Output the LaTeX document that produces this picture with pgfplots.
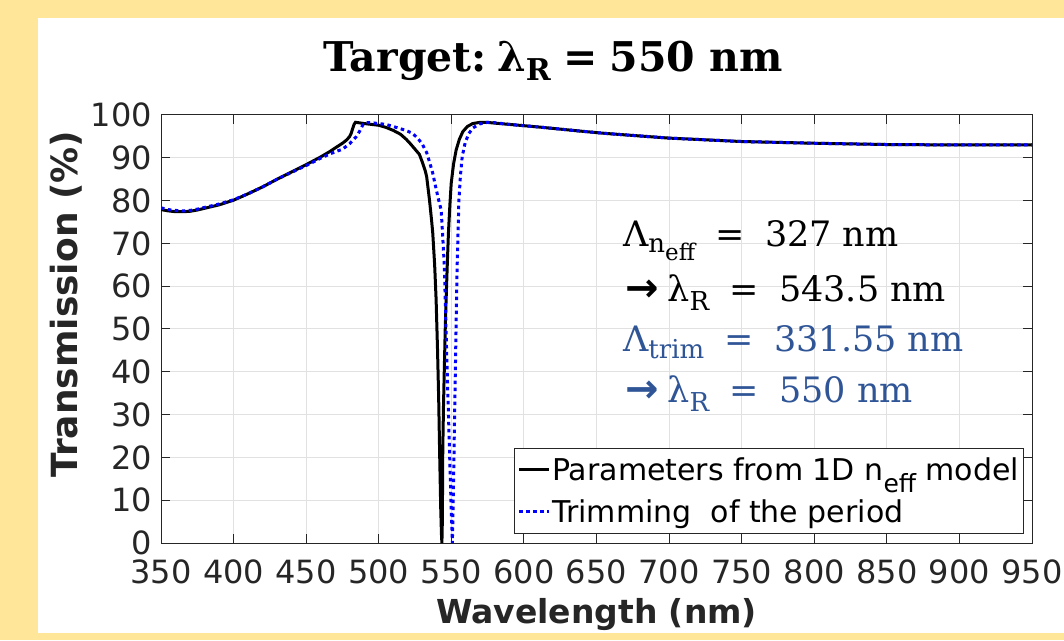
\documentclass[border=0pt]{standalone}
\usepackage{fontspec}
\setmainfont{DejaVu Sans}
\newfontfamily\seriffont{DejaVu Serif}
\newfontfamily\arrowfont{DejaVu Sans}
\usepackage{pgfplots}
\pgfplotsset{compat=1.18}
\definecolor{bgyellow}{RGB}{255,230,153}
\definecolor{axgray}{RGB}{38,38,38}
\definecolor{gridgray}{RGB}{225,225,225}
\definecolor{annblue}{RGB}{47,85,151}
\newcommand{\eq}{\hspace{0.58em}=\hspace{0.58em}}
\begin{document}
\begin{tikzpicture}[x=1pt,y=1pt]
\fill[bgyellow] (0,0) rectangle (1064,640);
\fill[white] (38,7) rectangle (1064,622);
\useasboundingbox (0,0) rectangle (1064,640);
\begin{axis}[
  at={(161pt,97pt)}, anchor=south west,
  scale only axis, width=871pt, height=428pt,
  xmin=350, xmax=950, ymin=0, ymax=100,
  xtick={350,400,...,950}, ytick={0,10,...,100},
  grid=major, major grid style={gridgray, line width=1pt},
  axis line style={axgray, line width=1pt},
  tick style={axgray, line width=1pt},
  tick align=inside, major tick length=9pt,
  tick label style={font=\fontsize{32}{32}\selectfont, color=axgray, inner sep=0pt},
  xticklabel style={yshift=-17pt},
  yticklabel style={xshift=-9pt},
  /pgf/number format/assume math mode=true,
  /pgf/number format/1000 sep={},
  xlabel={Wavelength (nm)}, ylabel={Transmission (\%)},
  xlabel style={font=\fontsize{33}{33}\selectfont\bfseries, color=axgray,
    at={(axis description cs:0.5,-0.189)}, anchor=base},
  ylabel style={font=\fontsize{36}{36}\selectfont\bfseries, color=axgray,
    at={(axis description cs:-0.0964,0.558)}, anchor=base},
  legend cell align=left,
  legend image code/.code={\draw[#1] (0pt,0pt) -- (30pt,0pt);},
  legend style={at={(axis description cs:0.9908,0.021)}, anchor=south east,
    draw=axgray, line width=0.8pt, fill=white,
    font=\fontsize{30}{30}\selectfont, inner xsep=3pt, inner ysep=8pt,
    row sep=15pt, nodes={inner sep=1.5pt}},
]
\addplot[black, line width=3pt] coordinates {
(350,77.9) (355,77.6) (360,77.4) (365,77.4) (370,77.5) (375,77.8) (380,78.2)
(390,79.0) (400,80.1) (410,81.6) (420,83.2) (430,85.0) (440,86.7) (450,88.4)
(460,90.2) (466,91.4) (470,92.3) (475,93.4) (478,94.2) (480,95.0) (481,95.7)
(482,96.8) (483,97.8) (484,98.3) (486,98.2) (490,98.0) (500,97.6) (505,97.1)
(510,96.4) (515,95.5) (519,94.3) (522,93.2) (525,92.0) (528,90.8) (530,89.0)
(532,87.0) (533,85.6) (535,80.0) (536.5,75.0) (537.2,72.4) (538.5,65.0)
(539.5,57.0) (540.5,45.0) (541.3,33.4) (542,20) (542.7,8) (543.2,2) (543.5,0)
(543.8,5) (544.1,21.7) (544.6,32) (545.2,41.2) (545.8,50) (546.4,56.8)
(547.2,65) (548,72.4) (549,79) (549.9,84) (551.5,88.5) (553.3,91.8)
(555.5,94.3) (557.9,96.1) (561,97.3) (564.7,98.0) (570,98.3) (574,98.3)
(580,98.1) (590,97.8) (600,97.5) (610,97.2) (625,96.7) (640,96.2) (656,95.7)
(680,95.1) (700,94.6) (725,94.2) (750,93.8) (775,93.6) (800,93.4) (825,93.25)
(850,93.1) (900,93.0) (950,93.0)
};
\addlegendentry{Parameters from 1D n\raisebox{-0.42em}{\fontsize{25}{25}\selectfont eff} model}
\addplot[blue, line width=3pt, dash pattern=on 3.5pt off 3.5pt] coordinates {
(350,78.3) (355,77.9) (360,77.7) (365,77.6) (370,77.7) (375,78.0) (380,78.4)
(390,79.2) (400,80.2) (410,81.6) (420,83.2) (430,85.0) (440,86.6) (450,88.2)
(460,89.9) (465,90.7) (470,91.4) (475,92.0) (480,93.3) (484.4,94.9) (487,96.3)
(489,97.7) (491,98.2) (495,98.2) (500,98.0) (505,97.8) (510,97.3) (515,96.8)
(520,96.2) (523.4,95.7) (527,94.5) (530,93.2) (533,91.2) (535,89.0)
(537.2,86.4) (539,83.5) (541,80.5) (543,77.8) (544,72) (545.2,64.6)
(546.4,49) (547.4,37) (548.4,25.7) (549.3,15) (550,7) (550.5,2) (550.7,0)
(551.2,8) (551.7,17.8) (552.2,29) (552.8,41) (553.4,53) (554,64.6)
(555.2,80) (556.3,86) (557.5,90.3) (559.5,93.5) (562.1,95.7) (565,97.0)
(569.3,97.9) (575,98.3) (580,98.2) (590,97.8) (600,97.5) (610,97.2)
(625,96.7) (640,96.2) (656,95.7) (680,95.1) (700,94.6) (725,94.2) (750,93.8)
(775,93.6) (800,93.4) (825,93.25) (850,93.1) (900,93.0) (950,93.0)
};
\addlegendentry{Trimming\ \ of the period}
\end{axis}
% title
\node[anchor=base, inner sep=0pt, font=\seriffont\bfseries\fontsize{41}{41}\selectfont] at (553,568)
  {Target:\hspace{0.25em}λ\raisebox{-0.2em}{\fontsize{30}{30}\selectfont R}\hspace{0.3em}=\hspace{0.3em}550 nm};
% annotations
\begin{scope}[every node/.style={anchor=base west, inner sep=0pt, font=\seriffont\fontsize{35}{35}\selectfont}]
\node at (623,393) {Λ\raisebox{-0.17em}{\fontsize{26}{26}\selectfont n\raisebox{-0.28em}{\fontsize{23}{23}\selectfont eff}}\eq 327 nm};
\node at (625,338) {{\arrowfont\bfseries\fontsize{40}{40}\selectfont →}\hspace{0.25em}λ\raisebox{-0.24em}{\fontsize{26}{26}\selectfont R}\eq 543.5 nm};
\node[text=annblue] at (623,288) {Λ\raisebox{-0.2em}{\fontsize{26}{26}\selectfont trim}\eq 331.55 nm};
\node[text=annblue] at (625,237) {{\arrowfont\bfseries\fontsize{40}{40}\selectfont →}\hspace{0.25em}λ\raisebox{-0.24em}{\fontsize{26}{26}\selectfont R}\eq 550 nm};
\end{scope}
\end{tikzpicture}
\end{document}
